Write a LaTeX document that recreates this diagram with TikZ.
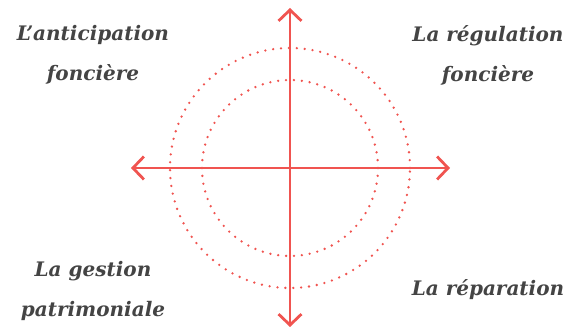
\documentclass[tikz,border=0pt]{standalone}
\usepackage{fontspec}
\setmainfont{DejaVu Serif}
\usepackage{xcolor}
\usetikzlibrary{arrows.meta, positioning}
\definecolor{axisred}{RGB}{240,84,80}
\definecolor{labelgray}{RGB}{68,68,68}

\begin{document}
\begin{tikzpicture}[x=1pt, y=1pt,
    lab/.style={font=\fontsize{20}{40}\selectfont\bfseries\itshape, text=labelgray, align=center, inner sep=0pt},
    ring/.style={axisred, line width=2.6pt, line cap=round, dash pattern=on 0pt off 7.9pt},
    axis/.style={{Straight Barb[length=11pt, width=23pt]}-{Straight Barb[length=11pt, width=23pt]}, axisred, line width=2.8pt}]
  \useasboundingbox (0,0) rectangle (566,328);
  \coordinate (c) at (290,160);
  \coordinate (n) at (290,320);
  \coordinate (s) at (290,1);
  \coordinate (w) at (131,160);
  \coordinate (e) at (450,160);
  % the two dotted rings
  \draw[ring] (c) circle[radius=120];
  \draw[ring] (c) circle[radius=88];
  % axes
  \draw[axis] (w) -- (e);
  \draw[axis] (s) -- (n);
  % quadrant labels
  \node[lab] (anticip) at (93,273) {L’anticipation\\foncière};
  \node[lab] (regul)   at (488,273) {La régulation\\foncière};
  \node[lab] (gestion) at (93,37) {La gestion\\patrimoniale};
  \node[lab, anchor=base] (repar) at (488,32) {La réparation};
\end{tikzpicture}
\end{document}
